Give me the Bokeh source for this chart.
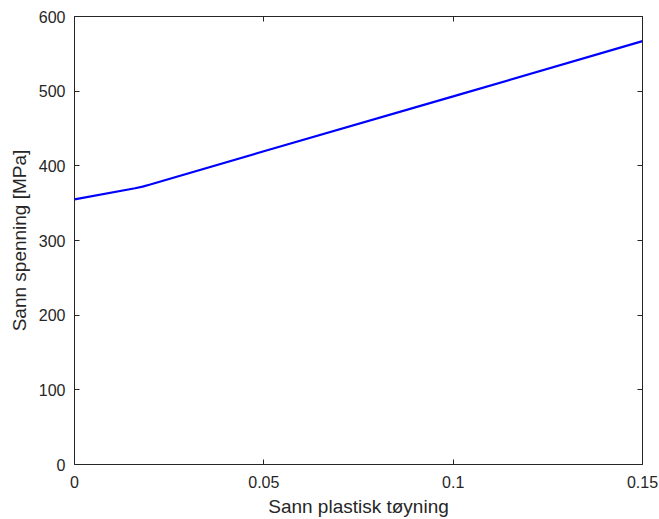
from bokeh.plotting import figure
from bokeh.models import LinearAxis, Range1d, FixedTicker
from bokeh.embed import file_html
from bokeh.resources import INLINE

strain = [0.0, 0.016, 0.018, 0.02, 0.05, 0.1, 0.15]
stress = [355.0, 370.0, 372.2, 375.0, 419.5, 493.0, 567.0]

x_ticks = [0, 0.05, 0.1, 0.15]
x_labels = {0: "0", 0.05: "0.05", 0.1: "0.1", 0.15: "0.15"}
y_ticks = [0, 100, 200, 300, 400, 500, 600]

FONT = "Liberation Sans"
TXT = "#262626"

p = figure(width=659, height=519, output_backend="svg", toolbar_location=None,
           x_range=Range1d(0, 0.15), y_range=Range1d(0, 600),
           min_border_left=74, min_border_right=17, min_border_top=16, min_border_bottom=55,
           x_axis_location=None, y_axis_location=None)
p.grid.visible = False
p.outline_line_color = None
p.background_fill_color = "white"
p.border_fill_color = "white"

def style(ax):
    ax.axis_line_color = TXT
    ax.axis_line_width = 1
    ax.major_tick_line_color = TXT
    ax.major_tick_in = 5
    ax.major_tick_out = 0
    ax.minor_tick_line_color = None
    ax.major_label_text_font = FONT
    ax.major_label_text_font_size = "16px"
    ax.major_label_text_color = TXT
    ax.axis_label_text_font = FONT
    ax.axis_label_text_font_size = "19px"
    ax.axis_label_text_font_style = "normal"
    ax.axis_label_text_color = TXT

xb = LinearAxis(ticker=FixedTicker(ticks=x_ticks), axis_label="Sann plastisk tøyning")
xb.major_label_overrides = x_labels
style(xb)
xb.major_label_standoff = 11
xb.axis_label_standoff = 5
p.add_layout(xb, "below")

yl = LinearAxis(ticker=FixedTicker(ticks=y_ticks), axis_label="Sann spenning [MPa]")
style(yl)
yl.major_label_standoff = 9
yl.axis_label_standoff = 6
p.add_layout(yl, "left")

xt = LinearAxis(ticker=FixedTicker(ticks=x_ticks))
style(xt)
xt.major_label_overrides = {t: "" for t in x_ticks}
xt.major_label_standoff = 0
p.add_layout(xt, "above")

yr = LinearAxis(ticker=FixedTicker(ticks=y_ticks))
style(yr)
yr.major_label_overrides = {t: "" for t in y_ticks}
yr.major_label_standoff = 0
p.add_layout(yr, "right")

p.line(strain, stress, line_color="#0000ff", line_width=2.2)

open("out.html", "w").write(file_html(p, INLINE))
